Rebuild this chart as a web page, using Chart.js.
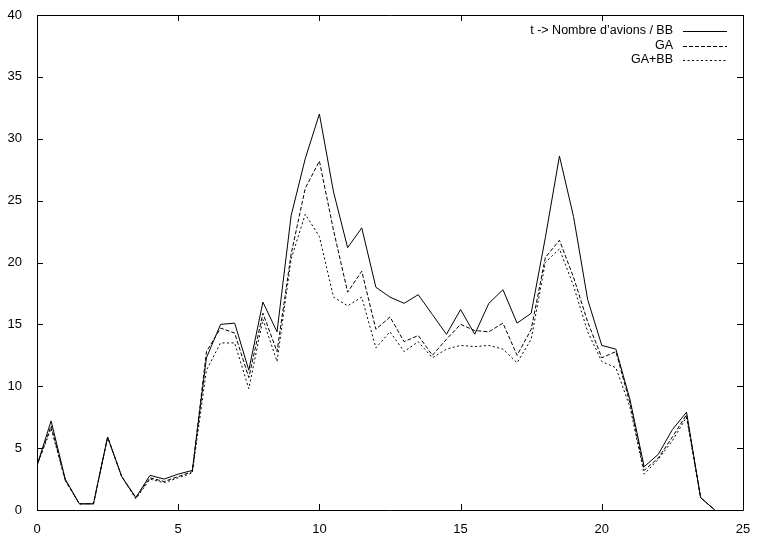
<!DOCTYPE html>
<html>
<head>
<meta charset="utf-8">
<script src="https://cdn.jsdelivr.net/npm/chart.js@4"></script>
<style>
  html, body { margin: 0; padding: 0; background: #fff; }
  #wrap { width: 757px; height: 537px; }
</style>
</head>
<body>
<div id="wrap"><canvas id="chart" width="757" height="537"></canvas></div>
<script>
  // x in hours, one point every half hour
  const hours = [0, 0.5, 1, 1.5, 2, 2.5, 3, 3.5, 4, 4.5, 5, 5.5, 6, 6.5, 7, 7.5, 8, 8.5, 9, 9.5,
    10, 10.5, 11, 11.5, 12, 12.5, 13, 13.5, 14, 14.5, 15, 15.5, 16, 16.5, 17, 17.5, 18, 18.5, 19, 19.5,
    20, 20.5, 21, 21.5, 22, 22.5, 23, 23.5, 24];

  const bbValues = [3.6, 7.2, 2.5, 0.5, 0.5, 5.9, 2.7, 1.0, 2.8, 2.5, 2.9, 3.2, 12.3, 15.0, 15.1, 11.3, 16.8, 14.4, 23.8, 28.4,
    32.0, 25.7, 21.2, 22.8, 18.0, 17.2, 16.7, 17.4, 15.8, 14.2, 16.2, 14.2, 16.7, 17.8, 15.1, 15.9, 22.0, 28.6, 23.7, 17.0,
    13.3, 13.0, 8.9, 3.5, 4.5, 6.5, 7.9, 1.0, 0];

  const gaValues = [3.6, 6.8, 2.4, 0.5, 0.5, 5.9, 2.7, 1.0, 2.6, 2.3, 2.7, 3.1, 12.8, 14.7, 14.3, 10.7, 15.9, 12.8, 20.7, 26.0,
    28.2, 22.6, 17.6, 19.3, 14.6, 15.6, 13.6, 14.1, 12.5, 13.8, 15.0, 14.5, 14.4, 15.1, 12.5, 14.6, 20.4, 21.8, 18.8, 15.2,
    12.3, 12.8, 8.6, 3.2, 4.2, 5.9, 7.7, 1.0, 0];

  const gaBbValues = [3.6, 6.6, 2.4, 0.5, 0.5, 5.9, 2.7, 0.9, 2.5, 2.2, 2.6, 3.0, 11.3, 13.5, 13.5, 9.8, 15.4, 12.0, 20.3, 23.9,
    22.1, 17.2, 16.5, 17.2, 13.1, 14.4, 12.8, 13.6, 12.3, 13.0, 13.3, 13.2, 13.3, 13.0, 11.9, 13.8, 20.0, 21.1, 18.1, 14.4,
    12.0, 11.5, 8.3, 2.9, 4.1, 5.6, 7.5, 1.0, 0];

  const xTicks = [0, 5, 10, 15, 20, 25];
  const yTicks = [0, 5, 10, 15, 20, 25, 30, 35, 40];
  const seriesNames = ['t -> Nombre d\u2019avions / BB', 'GA', 'GA+BB'];

  const FONT = { family: '"Liberation Sans", Arial, Helvetica, sans-serif', size: 13 };

  function toPoints(values) {
    return hours.map((h, i) => ({ x: h, y: values[i] }));
  }

  // frame, inward ticks on all four sides, and the gnuplot style key
  const gnuplotFrame = {
    id: 'gnuplotFrame',
    afterDatasetsDraw(chart) {
      const ctx = chart.ctx;
      const a = chart.chartArea;
      const xs = chart.scales.x, ys = chart.scales.y;
      ctx.save();
      ctx.strokeStyle = '#000';
      ctx.lineWidth = 1;
      ctx.setLineDash([]);
      ctx.beginPath();
      ctx.rect(Math.round(a.left) + 0.5, Math.round(a.top) + 0.5,
        Math.round(a.right - a.left), Math.round(a.bottom - a.top));
      const t = 6;
      xTicks.forEach(v => {
        const px = Math.round(xs.getPixelForValue(v)) + 0.5;
        ctx.moveTo(px, a.bottom); ctx.lineTo(px, a.bottom - t);
        ctx.moveTo(px, a.top); ctx.lineTo(px, a.top + t);
      });
      yTicks.forEach(v => {
        const py = Math.round(ys.getPixelForValue(v)) + 0.5;
        ctx.moveTo(a.left, py); ctx.lineTo(a.left + t, py);
        ctx.moveTo(a.right, py); ctx.lineTo(a.right - t, py);
      });
      ctx.stroke();

      // key
      ctx.font = '12.5px ' + FONT.family;
      ctx.fillStyle = '#000';
      ctx.textAlign = 'right';
      ctx.textBaseline = 'middle';
      chart.data.datasets.forEach((ds, i) => {
        const y = 31 + i * 14.5;
        ctx.fillText(ds.label, 673, y);
        ctx.beginPath();
        ctx.setLineDash(ds.borderDash || []);
        ctx.moveTo(683, Math.round(y) + 0.5);
        ctx.lineTo(727, Math.round(y) + 0.5);
        ctx.stroke();
      });
      ctx.restore();
    }
  };

  new Chart(document.getElementById('chart').getContext('2d'), {
    type: 'line',
    data: {
      datasets: [
        { label: seriesNames[0], data: toPoints(bbValues), borderColor: '#000', borderWidth: 1, borderDash: [] },
        { label: seriesNames[1], data: toPoints(gaValues), borderColor: '#000', borderWidth: 1, borderDash: [4, 2] },
        { label: seriesNames[2], data: toPoints(gaBbValues), borderColor: '#000', borderWidth: 1, borderDash: [2, 2.5] }
      ]
    },
    options: {
      responsive: false,
      animation: false,
      layout: { padding: { top: 15, right: 14, left: 0, bottom: 0 } },
      elements: { point: { radius: 0 }, line: { tension: 0 } },
      plugins: { legend: { display: false }, tooltip: { enabled: false } },
      scales: {
        x: {
          type: 'linear', min: 0, max: 25,
          afterBuildTicks: s => { s.ticks = xTicks.map(v => ({ value: v })); },
          afterFit: s => { s.height = 27; },
          grid: { display: false },
          border: { display: false },
          ticks: { color: '#000', font: FONT, padding: 4, maxRotation: 0 }
        },
        y: {
          min: 0, max: 40,
          afterBuildTicks: s => { s.ticks = yTicks.map(v => ({ value: v })); },
          afterFit: s => { s.width = 37; },
          grid: { display: false },
          border: { display: false },
          ticks: { color: '#000', font: FONT, padding: 7 }
        }
      }
    },
    plugins: [gnuplotFrame]
  });
</script>
</body>
</html>
